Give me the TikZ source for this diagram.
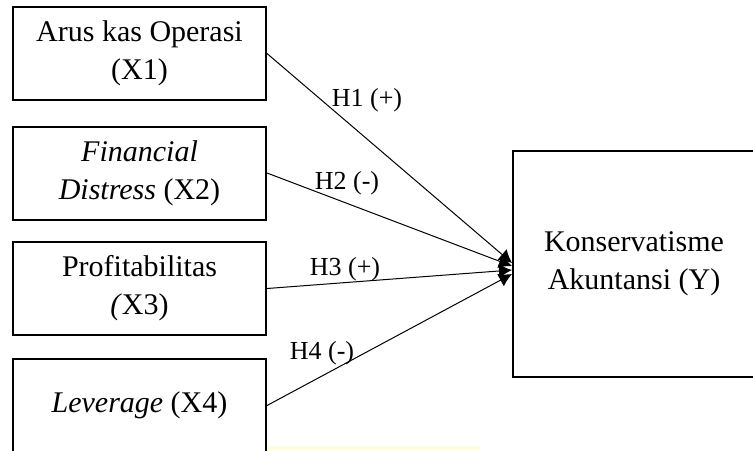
\documentclass[tikz,border=0pt]{standalone}
\usepackage{fontspec}
\setmainfont{Liberation Serif}
\usetikzlibrary{arrows.meta}
\begin{document}
\begin{tikzpicture}[
    x=0.5pt, y=-0.5pt,
    every node/.style={align=center},
    var box/.style={draw, line width=1pt, minimum width=126.5pt, minimum height=46.5pt, inner sep=0pt, font=\fontsize{15}{19}\selectfont},
    dep box/.style={draw, line width=1pt, minimum width=121pt, minimum height=113pt, inner sep=0pt, font=\fontsize{15}{19}\selectfont},
    hyp arrow/.style={draw, line width=0.5pt, -{Latex[length=6.5pt,width=7pt]}},
    hyp label/.style={font=\fontsize{13}{15}\selectfont, inner sep=0pt},
    ]
\useasboundingbox (0,0) rectangle (753,450);
\clip (0,0) rectangle (753,450);
\fill[yellow!14] (265,446) rectangle (480,450);
\node[var box] (X1) at (139.5,53.5) {Arus kas Operasi\\(X1)};
\node[var box] (X2) at (139.5,173) {\textit{Financial}\\\textit{Distress} (X2)};
\node[var box] (X3) at (139.5,288.5) {Profitabilitas\\\textit{(}X3)};
\node[var box] (X4) at (139.5,405.5) {\textit{Leverage} (X4)};
\node[dep box] (Y) at (634,264) {Konservatisme\\Akuntansi (Y)};
\coordinate (t1) at (512,263);
\coordinate (t2) at (512,266);
\coordinate (t3) at (512,270);
\coordinate (t4) at (512,274);
\draw[hyp arrow] (X1.east) -- (t1);
\draw[hyp arrow] (X2.east) -- (t2);
\draw[hyp arrow] (X3.east) -- (t3);
\draw[hyp arrow] (X4.east) -- (t4);
\node[hyp label] (H1) at (367,100) {H1 (+)};
\node[hyp label] (H2) at (347,183) {H2 (-)};
\node[hyp label] (H3) at (345,269) {H3 (+)};
\node[hyp label] (H4) at (322,353) {H4 (-)};
\end{tikzpicture}
\end{document}
